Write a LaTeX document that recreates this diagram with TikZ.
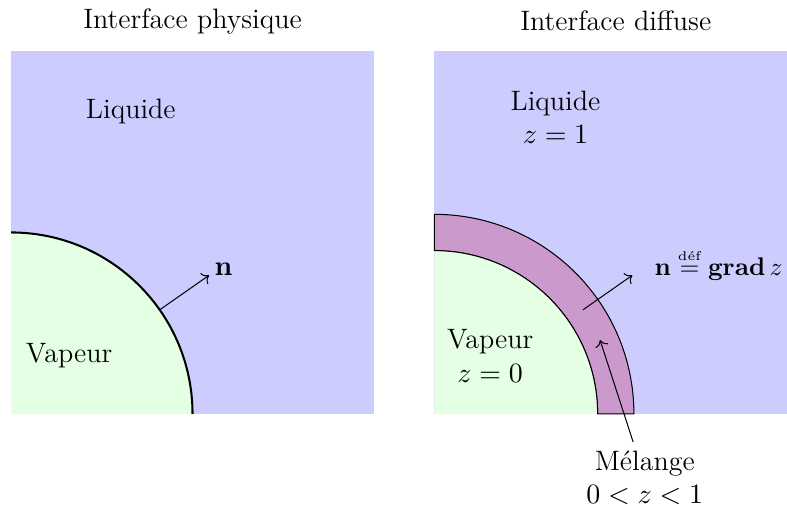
\documentclass[tikz,border=0pt]{standalone}
\usepackage{amsmath}
\usepackage{xcolor}
\usepackage{tikz}
\usetikzlibrary{arrows.meta, positioning}

\begin{document}
\begin{tikzpicture}[
    every node/.style={font=\fontsize{11}{13}\selectfont},
    liquid/.style={fill=blue!20},
    vapour/.style={fill=green!10},
    mixband/.style={fill=violet!40, draw=black},
    label/.style={align=center},
    arrow/.style={->}
]
\useasboundingbox (-0.152,-1.267) rectangle (10.689,5.702);

% Left: physical interface
\fill[liquid] (0,0) rectangle (5,5);
\fill[vapour] (0,0) -- (2.5,0) arc (0:90:2.5) -- cycle;
\draw[thick] (2.5,0) arc (0:90:2.5);

\node (titleA) at (2.5,5.41) {Interface physique};
\node[label] (liqA) at (1.65,4.16) {Liquide};
\node[label] (vapA) at (0.8,0.81) {Vapeur};

\coordinate (pA) at (35:2.5);
\coordinate (qA) at (35:3.33);
\node[anchor=base west, inner sep=1pt] (nA) at ([xshift=1pt]qA) {$\mathbf{n}$};
\draw[arrow] (pA) -- (qA);

% Right: diffuse interface
\begin{scope}[shift={(5.83,0)}]
\fill[liquid] (0,0) rectangle (5,5);
\filldraw[mixband] (2.25,0) arc (0:90:2.25) -- (0,2.75) arc (90:0:2.75) -- cycle;
\fill[vapour] (0,0) -- (2.25,0) arc (0:90:2.25) -- cycle;
\draw (2.25,0) arc (0:90:2.25);

\node (titleB) at (2.5,5.41) {Interface diffuse};
\node[label] (liqB) at (1.67,4.09) {Liquide\\$z = 1$};
\node[label] (vapB) at (0.77,0.8) {Vapeur\\$z = 0$};
\node[label] (mix) at (2.9,-0.88) {M\'elange\\$0 < z < 1$};

\coordinate (pB) at (35:2.5);
\coordinate (qB) at (35:3.33);
\coordinate (tB) at (24:2.5);
\node[anchor=base west, inner sep=0pt, font=\normalsize] (nB) at ([xshift=0.3cm]qB)
    {$\mathbf{n} \mathrel{\overset{\scriptscriptstyle\text{d\'ef}}{=}} \mathbf{grad}\, z$};
\draw[arrow] (pB) -- (qB);
\draw[arrow] (mix) -- (tB);
\end{scope}

\end{tikzpicture}
\end{document}
